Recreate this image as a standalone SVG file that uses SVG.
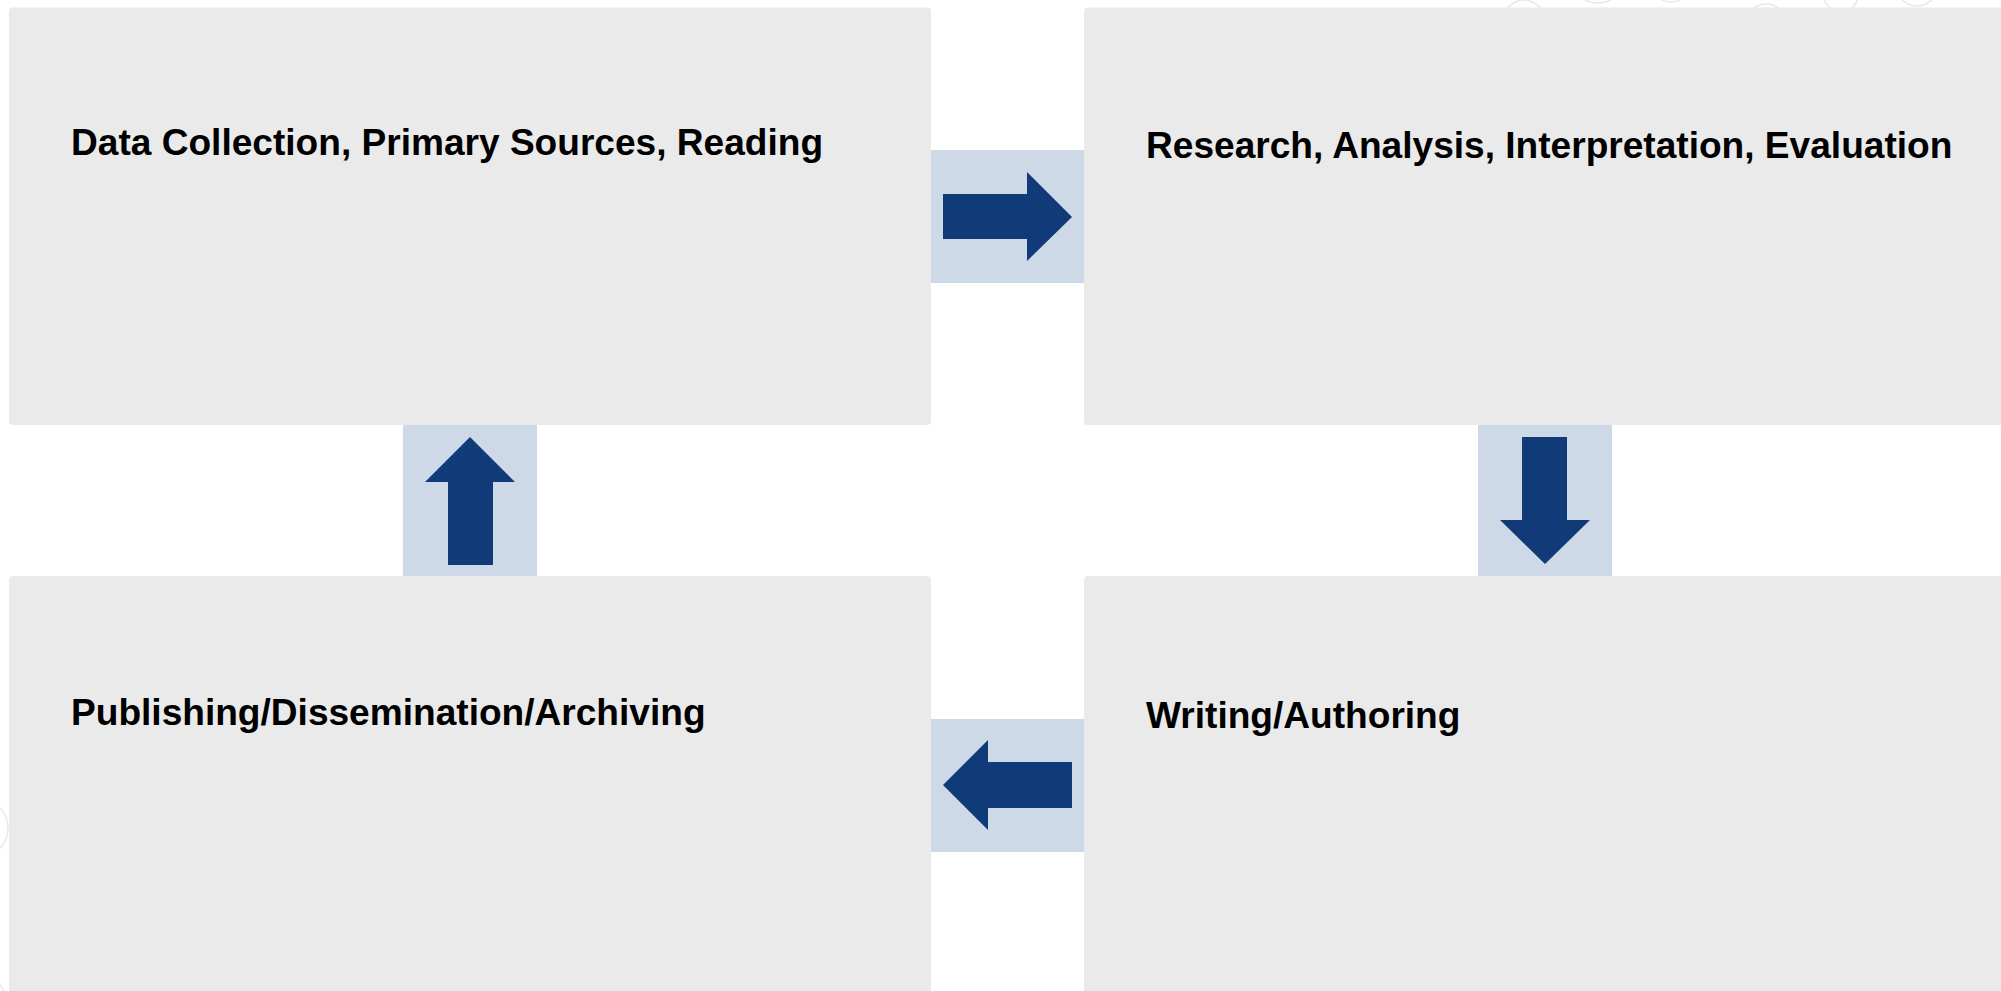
<svg xmlns="http://www.w3.org/2000/svg" width="2001" height="991" viewBox="0 0 2001 991">
<style>
.box{fill:#eaeaea}
.conbg{fill:#cdd9e7}
.arrow{fill:#113a78}
.lbl{font-family:"Liberation Sans",Arial,sans-serif;font-weight:bold;font-size:37.1px;fill:#000}
.deco{fill:none;stroke:#e3e8f1;stroke-width:1.5}
</style>
<rect width="2001" height="991" fill="#ffffff"/>
<g id="decoration">
<circle class="deco" cx="1524" cy="20" r="20"/>
<circle class="deco" cx="1598" cy="-25" r="28"/>
<circle class="deco" cx="1671" cy="-18" r="20"/>
<circle class="deco" cx="1766" cy="24" r="20"/>
<circle class="deco" cx="1841" cy="-5" r="17"/>
<circle class="deco" cx="1917" cy="-14" r="20"/>
<circle class="deco" cx="2015" cy="30" r="26"/>
<circle class="deco" cx="-22" cy="828" r="30"/>
<circle class="deco" cx="-20" cy="1000" r="25"/>
</g>
<g id="connectors">
<g id="conn-right">
<rect class="conbg" x="931" y="150" width="153" height="133"/>
<polygon class="arrow" points="943,194 1027,194 1027,172 1072,217 1027,261 1027,239 943,239"/>
</g>
<g id="conn-down">
<rect class="conbg" x="1478" y="425" width="134" height="151"/>
<polygon class="arrow" points="1522,437 1567,437 1567,520 1590,520 1545,564 1500,520 1522,520"/>
</g>
<g id="conn-left">
<rect class="conbg" x="931" y="719" width="153" height="133"/>
<polygon class="arrow" points="1072,762 988,762 988,740 943,785 988,830 988,808 1072,808"/>
</g>
<g id="conn-up">
<rect class="conbg" x="403" y="425" width="134" height="151"/>
<polygon class="arrow" points="470,437 515,482 493,482 493,565 448,565 448,482 425,482"/>
</g>
</g>
<g id="node-data">
<rect class="box" x="9" y="7.5" width="922" height="417.5" rx="4"/>
<text class="lbl" x="71" y="155">Data Collection, Primary Sources, Reading</text>
</g>
<g id="node-research">
<rect class="box" x="1084" y="7.5" width="930" height="417.5" rx="4"/>
<text class="lbl" x="1146" y="157.5">Research, Analysis, Interpretation, Evaluation</text>
</g>
<g id="node-writing">
<rect class="box" x="1084" y="576" width="930" height="430" rx="4"/>
<text class="lbl" x="1146" y="727.5">Writing/Authoring</text>
</g>
<g id="node-publishing">
<rect class="box" x="9" y="576" width="922" height="430" rx="4"/>
<text class="lbl" x="71" y="724.5">Publishing/Dissemination/Archiving</text>
</g>
</svg>
